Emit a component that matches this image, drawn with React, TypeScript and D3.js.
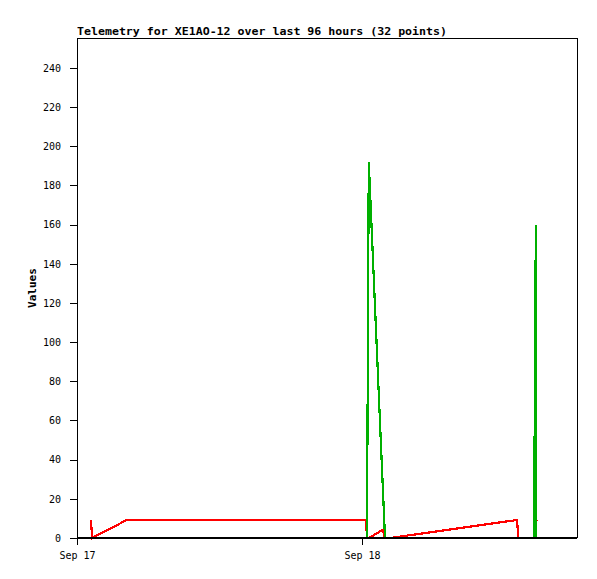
import React, { useRef, useEffect } from 'react';
import * as d3 from 'd3';

// time helper: Sep <day> <h>:<m>
const t = (day: number, h: number, m: number) => new Date(2019, 8, day, h, m);

const TITLE = 'Telemetry for XE1AO-12 over last 96 hours (32 points)';
const yTicks = [0, 20, 40, 60, 80, 100, 120, 140, 160, 180, 200, 220, 240];

const redTimes = [
  t(17, 1, 11), t(17, 1, 16), t(17, 4, 8), t(18, 0, 20), t(18, 0, 25), t(18, 0, 35),
  t(18, 1, 46), t(18, 1, 53), t(18, 2, 22), t(18, 13, 3), t(18, 13, 10), t(18, 14, 39),
  t(18, 14, 41), t(18, 14, 45)
];
const redValues = [9, 0, 9, 9, 0, 0, 4.3, 0, 0, 9.2, 0, 0, 9, 9];

const greenTimes = [
  t(17, 1, 11), t(18, 0, 25), t(18, 0, 34), t(18, 1, 56), t(18, 14, 29), t(18, 14, 38), t(18, 14, 40)
];
const greenValues = [0, 0, 192, 0, 0, 160, 0];

export default function App() {
  const svgRef = useRef<SVGSVGElement>(null);

  useEffect(() => {
    const margin = { top: 38, right: 20, bottom: 41, left: 77 },
      width = 597 - margin.left - margin.right,
      height = 579 - margin.top - margin.bottom;

    const root = d3.select(svgRef.current);
    root.selectAll('*').remove();

    const svg = root
      .append('g')
      .attr('transform', 'translate(' + margin.left + ',' + margin.top + ')');

    const x = d3.scaleTime().domain([t(17, 0, 0), t(18, 18, 6)]).range([0, width]);
    const y = d3.scaleLinear().domain([0, 255.3]).range([height, 0]);

    const mono = '"DejaVu Sans Mono", "Liberation Mono", monospace';

    // title
    root
      .append('text')
      .attr('x', margin.left)
      .attr('y', 35)
      .attr('font-family', mono)
      .attr('font-weight', 'bold')
      .attr('font-size', '11px')
      .attr('textLength', 370)
      .attr('lengthAdjust', 'spacingAndGlyphs')
      .text(TITLE);

    // Y axis
    const yAxis = svg
      .append('g')
      .call(d3.axisLeft(y).tickValues(yTicks).tickSize(7).tickPadding(9).tickFormat(d3.format('d')));
    yAxis.select('.domain').remove();
    yAxis.selectAll('text').attr('font-family', mono).attr('font-size', '10px').attr('fill', '#000');
    yAxis.selectAll('line').attr('shape-rendering', 'crispEdges');

    // X axis
    const xAxis = svg
      .append('g')
      .attr('transform', 'translate(0,' + height + ')')
      .call(
        d3
          .axisBottom(x)
          .ticks(d3.timeDay.every(1))
          .tickSize(7)
          .tickPadding(7)
          .tickFormat(d3.timeFormat('%b %d') as any)
      );
    xAxis.select('.domain').remove();
    xAxis.selectAll('text').attr('font-family', mono).attr('font-size', '10px').attr('fill', '#000');
    xAxis.selectAll('line').attr('shape-rendering', 'crispEdges');

    // y label
    root
      .append('text')
      .attr('transform', 'translate(36,' + (margin.top + height / 2) + ') rotate(-90)')
      .attr('text-anchor', 'middle')
      .attr('font-family', mono)
      .attr('font-weight', 'bold')
      .attr('font-size', '11px')
      .text('Values');

    // frame (top, left, right)
    svg
      .append('path')
      .attr('d', `M0,${height}V0H${width}V${height}`)
      .attr('fill', 'none')
      .attr('stroke', '#000')
      .attr('stroke-width', 1)
      .attr('shape-rendering', 'crispEdges');

    const line = d3
      .line<[Date, number]>()
      .x(d => x(d[0]))
      .y(d => y(d[1]));

    const redData = redTimes.map((d, i) => [d, redValues[i]] as [Date, number]);
    const greenData = greenTimes.map((d, i) => [d, greenValues[i]] as [Date, number]);

    svg
      .append('path')
      .datum(redData)
      .attr('d', line)
      .attr('fill', 'none')
      .attr('stroke', '#ff0000')
      .attr('stroke-width', 2.2)
      .attr('shape-rendering', 'crispEdges');

    svg
      .append('path')
      .datum(greenData)
      .attr('d', line)
      .attr('fill', 'none')
      .attr('stroke', '#00b000')
      .attr('stroke-width', 2.2)
      .attr('shape-rendering', 'crispEdges');

    // baseline at zero
    svg
      .append('line')
      .attr('x1', 0)
      .attr('x2', width)
      .attr('y1', y(0))
      .attr('y2', y(0))
      .attr('stroke', '#000')
      .attr('stroke-width', 2)
      .attr('shape-rendering', 'crispEdges');
  }, []);

  return (
    <svg
      ref={svgRef}
      width={597}
      height={579}
      style={{ position: 'absolute', left: 0, top: 0, background: '#fff' }}
    />
  );
}
